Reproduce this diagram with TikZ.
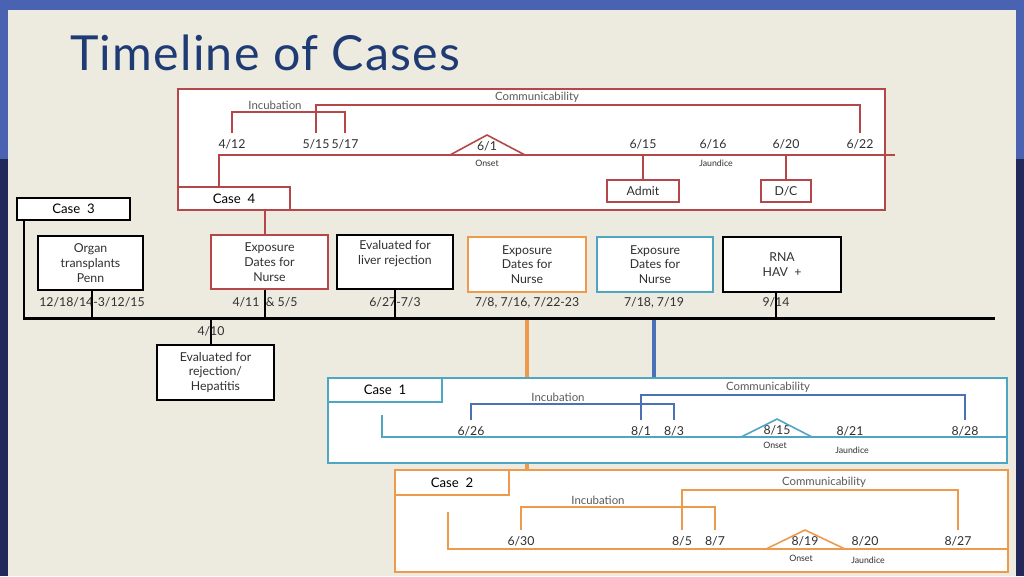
\documentclass[tikz,border=0pt]{standalone}
\usepackage{fontspec}
\setmainfont{Lato}
\newfontfamily\titlefont[LetterSpace=2.5]{Lato}
\usetikzlibrary{positioning}

\definecolor{slidetop}{HTML}{4A62B2}
\definecolor{slidebot}{HTML}{22285A}
\definecolor{paper}{HTML}{EDEAE0}
\definecolor{titleblue}{HTML}{1F3B73}
\definecolor{casered}{HTML}{B5474A}
\definecolor{caseorange}{HTML}{EE9A4D}
\definecolor{caseteal}{HTML}{4FA6C2}
\definecolor{caseblue}{HTML}{4A70B5}
\definecolor{txtgray}{HTML}{303030}

\begin{document}
\begin{tikzpicture}[x=0.02cm,y=-0.02cm,
    evbox/.style={draw,fill=white,line width=1.1pt,align=center,inner sep=0pt,
                  font=\fontsize{7}{8.4}\selectfont,text=txtgray},
    casebox/.style={draw,fill=white,line width=0.8pt,inner sep=0pt,align=center,
                    font=\fontsize{7}{8.4}\selectfont,text=txtgray},
    caselbl/.style={casebox,font=\fontsize{7.5}{9}\selectfont,text=black},
    dt/.style={font=\fontsize{7}{8}\selectfont,text=txtgray,inner sep=1pt,
               text height=5pt,text depth=1pt,outer ysep=3pt},
    brlbl/.style={font=\fontsize{6.5}{7}\selectfont,text=txtgray!80,inner sep=1pt,anchor=south},
    smallnote/.style={font=\fontsize{5}{6}\selectfont,text=txtgray,inner sep=0.5pt},
    redln/.style={casered,line width=0.9pt},
    orangeln/.style={caseorange,line width=0.9pt},
    tealln/.style={caseteal,line width=0.9pt},
    blueln/.style={caseblue,line width=0.9pt},
    tickln/.style={black,line width=0.85pt},
    mainln/.style={black,line width=1.7pt}
]
\useasboundingbox (0,0) rectangle (1024,576);
% slide background
\fill[slidetop] (0,0) rectangle (1024,159);
\fill[slidebot] (0,159) rectangle (1024,576);
\fill[paper] (8,10) rectangle (1016,576);
\node[anchor=base west,inner sep=0pt,text=titleblue,font=\titlefont\fontsize{27.5}{32}\selectfont] (title) at (70,70) {Timeline of Cases};

% case 4
\node[casebox,draw=casered,minimum width=14.14cm,minimum height=2.42cm] (c4frame) at (531.5,149.5) {};
\node[caselbl,draw=casered,minimum width=2.24cm,minimum height=0.46cm] (c4lbl) at (234,198.5) {Case\ \ 4};
\coordinate (c4tl) at (219,155);
\coordinate (c4end) at (895,155);
\draw[redln] (c4tl |- c4lbl.north) -- (c4tl) -- (c4end);
\node[dt] (d412) at (232,145) {4/12};
\node[dt] (d515) at (316,145) {5/15};
\node[dt] (d517) at (345,145) {5/17};
\node[dt] (d61) at (487,147) {6/1};
\node[dt] (d615) at (643,145) {6/15};
\node[dt] (d616) at (713,145) {6/16};
\node[dt] (d620) at (786,145) {6/20};
\node[dt] (d622) at (860,145) {6/22};
\node[brlbl] (inc4) at (275,112) {Incubation};
\node[brlbl] (com4) at (537,105) {Communicability};
\draw[redln] (d412.north) |- (inc4.south) -| (d517.north);
\draw[redln] (d515.north) |- (com4.south) -| (d622.north);
\coordinate (on4a) at (450,155);
\coordinate (on4b) at (487,135);
\coordinate (on4c) at (525,155);
\draw[redln] (on4a) -- (on4b) -- (on4c);
\node[smallnote] (ons4) at (487,163) {Onset};
\node[smallnote] (jau4) at (716,163) {Jaundice};
\node[casebox,draw=casered,minimum width=1.44cm,minimum height=0.44cm] (admit) at (643,191) {Admit};
\node[casebox,draw=casered,minimum width=1.0cm,minimum height=0.44cm] (dc) at (786,191) {D/C};
\draw[redln] (admit.north) -- (admit.north |- c4tl);
\draw[redln] (dc.north) -- (dc.north |- c4tl);

% case 3 and main timeline
\node[evbox,minimum width=2.26cm,minimum height=0.44cm,font=\fontsize{7.5}{9}\selectfont,text=black] (case3) at (73.5,209) {Case\ \ 3};
\coordinate (mainst) at (24,318);
\coordinate (mainend) at (995,318);
\node[evbox,minimum width=2.1cm,minimum height=1.08cm] (organ) at (90.5,263) {Organ\\transplants\\Penn};
\node[evbox,draw=casered,minimum width=2.34cm,minimum height=1.08cm] (expred) at (269.5,262) {Exposure\\Dates for\\Nurse};
\node[evbox,minimum width=2.32cm,minimum height=1.08cm] (evliver) at (395,262) {Evaluated for\\liver rejection\\\strut};
\node[evbox,draw=caseorange,minimum width=2.36cm,minimum height=1.1cm] (expor) at (527,264.5) {Exposure\\Dates for\\Nurse};
\node[evbox,draw=caseteal,minimum width=2.32cm,minimum height=1.1cm] (expbl) at (655,264.5) {Exposure\\Dates for\\Nurse};
\node[evbox,minimum width=2.36cm,minimum height=1.1cm] (rna) at (782,264.5) {RNA\\HAV\ \ +};
\node[evbox,minimum width=2.34cm,minimum height=1.1cm] (evhep) at (215.5,372.5) {Evaluated for\\rejection/\\Hepatitis};
\node[dt] (d1218) at (92,303) {12/18/14-3/12/15};
\node[dt] (d411) at (265,303) {4/11\ \ \& 5/5};
\node[dt] (d627) at (395,303) {6/27-7/3};
\node[dt] (d708) at (527,303) {7/8, 7/16, 7/22-23};
\node[dt] (d718) at (654,303) {7/18, 7/19};
\node[dt] (d914) at (776,303) {9/14};
\node[dt] (d410) at (211,332) {4/10};

% case 1
\node[casebox,draw=caseteal,minimum width=13.58cm,minimum height=1.7cm] (c1frame) at (667.5,420.5) {};
\node[caselbl,draw=caseteal,minimum width=2.28cm,minimum height=0.48cm] (c1lbl) at (385,390) {Case\ \ 1};
\coordinate (c1top) at (382,415);
\coordinate (c1end) at (1008,437);
\draw[tealln] (c1top) |- (c1end);
\node[dt] (d626) at (471,432) {6/26};
\node[dt] (d81) at (641,432) {8/1};
\node[dt] (d83) at (674,432) {8/3};
\node[dt] (d815) at (777,431) {8/15};
\node[dt] (d821) at (850,432) {8/21};
\node[dt] (d828) at (965,432) {8/28};
\node[brlbl] (inc1) at (558,404) {Incubation};
\node[brlbl] (com1) at (768,395) {Communicability};
\draw[blueln] (d626.north) |- (inc1.south) -| (d83.north);
\draw[blueln] (d81.north) |- (com1.south) -| (d828.north);
\coordinate (on1a) at (741,437);
\coordinate (on1b) at (777,419);
\coordinate (on1c) at (812,437);
\draw[tealln] (on1a) -- (on1b) -- (on1c);
\node[smallnote] (ons1) at (775,445) {Onset};
\node[smallnote] (jau1) at (852,450) {Jaundice};

% case 2
\node[casebox,draw=caseorange,minimum width=12.26cm,minimum height=2.04cm] (c2frame) at (701.5,521) {};
\node[caselbl,draw=caseorange,minimum width=2.28cm,minimum height=0.5cm] (c2lbl) at (452,482.5) {Case\ \ 2};
\coordinate (c2top) at (448,512);
\coordinate (c2end) at (1008,549);
\draw[orangeln] (c2top) |- (c2end);
\node[dt] (d630) at (521,542) {6/30};
\node[dt] (d85) at (682,542) {8/5};
\node[dt] (d87) at (715,542) {8/7};
\node[dt] (d819) at (805,542) {8/19};
\node[dt] (d820) at (865,542) {8/20};
\node[dt] (d827) at (958,542) {8/27};
\node[brlbl] (inc2) at (598,507) {Incubation};
\node[brlbl] (com2) at (824,490) {Communicability};
\draw[orangeln] (d630.north) |- (inc2.south) -| (d87.north);
\draw[orangeln] (d85.north) |- (com2.south) -| (d827.north);
\coordinate (on2a) at (766,549);
\coordinate (on2b) at (805,530);
\coordinate (on2c) at (845,549);
\draw[orangeln] (on2a) -- (on2b) -- (on2c);
\node[smallnote] (ons2) at (801,558) {Onset};
\node[smallnote] (jau2) at (868,560) {Jaundice};

% connectors to the main timeline
\draw[redln,line width=1.2pt] (c4lbl.south -| d411) -- (expred.north -| d411);
\draw[tickln] (organ.south -| d1218) -- (d1218 |- mainst);
\draw[tickln] (expred.south -| d411) -- (d411 |- mainst);
\draw[tickln] (evliver.south -| d627) -- (d627 |- mainst);
\draw[tickln] (rna.south -| d914) -- (d914 |- mainst);
\draw[tickln] (d410 |- mainst) -- (evhep.north -| d410);
\draw[orangeln,line width=1.8pt] (d708 |- mainst) -- (d708 |- c1frame.north);
\draw[orangeln,line width=1.8pt] (d708 |- c1frame.south) -- (d708 |- c2frame.north);
\draw[blueln,line width=1.8pt] (d718 |- mainst) -- (d718 |- c1frame.north);
\draw[mainln] (case3.south -| mainst) -- (mainst) -- (mainend);
\end{tikzpicture}
\end{document}
